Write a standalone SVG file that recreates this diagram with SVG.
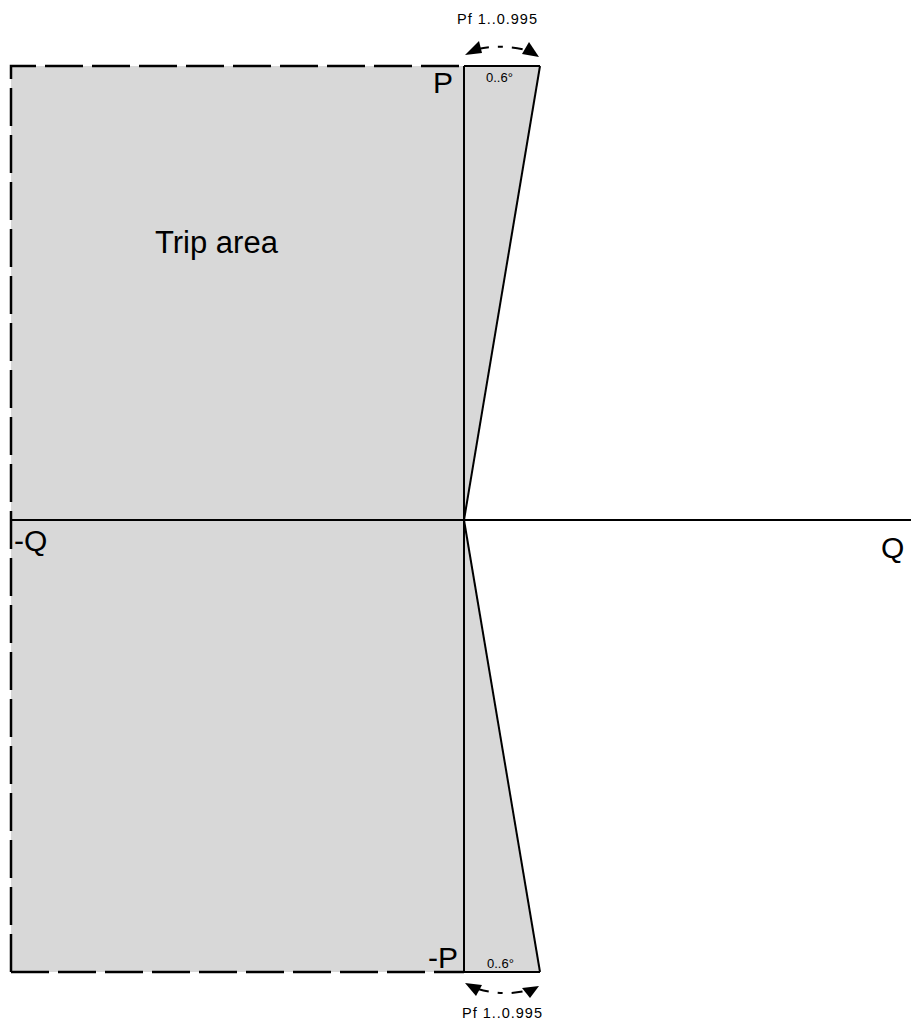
<svg xmlns="http://www.w3.org/2000/svg" width="911" height="1027" viewBox="0 0 911 1027">
<style>
text{font-family:"Liberation Sans",Arial,sans-serif;fill:#000}
.ln{stroke:#000;stroke-width:2;fill:none}
.dash{stroke:#000;stroke-width:2.5;fill:none;stroke-dasharray:38,9}
.arc{stroke:#000;stroke-width:2;fill:none;stroke-dasharray:11,9,5,9}
.s{font-size:14.5px}
.d{font-size:13px}
.m{font-size:30px}
</style>
<g id="trip-area">
<path d="M11,66H540L464,520L540,972H11Z" fill="#d8d8d8"/>
</g>
<g id="connectors">
<path class="dash" d="M11,972V66H464"/>
<path class="dash" d="M11,972H464"/>
<line class="ln" x1="464" y1="66" x2="540" y2="66"/>
<line class="ln" x1="464" y1="972" x2="540" y2="972"/>
<line class="ln" x1="464" y1="66" x2="464" y2="972"/>
<line class="ln" x1="11" y1="520" x2="911" y2="520"/>
<line class="ln" x1="540" y1="66" x2="464" y2="520"/>
<line class="ln" x1="540" y1="972" x2="464" y2="520"/>
<path class="arc" d="M478,49Q502,44 526,50"/>
<path class="arc" d="M478,989Q502,996 525,991"/>
<path d="M465,55L479,41L482,53Z" fill="#000"/>
<path d="M539,57L529,42L522,54Z" fill="#000"/>
<path d="M465,983L482,985L476,996Z" fill="#000"/>
<path d="M539,986L522,988L530,998Z" fill="#000"/>
</g>
<g id="labels">
<text x="155" y="253" font-size="31">Trip area</text>
<text class="m" x="433" y="93">P</text>
<text class="m" x="428" y="968">-P</text>
<text class="m" x="14" y="551">-Q</text>
<text class="m" x="881" y="558">Q</text>
<text class="d" x="486" y="82">0..6°</text>
<text class="d" x="487" y="968">0..6°</text>
<text class="s" x="457" y="24" textLength="80" lengthAdjust="spacing">Pf  1..0.995</text>
<text class="s" x="462" y="1018" textLength="80" lengthAdjust="spacing">Pf  1..0.995</text>
</g>
</svg>
